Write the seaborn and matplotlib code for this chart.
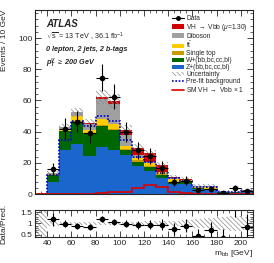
import numpy as np
import pandas as pd
import matplotlib
matplotlib.use("Agg")
import matplotlib.pyplot as plt
from matplotlib.patches import Patch
from matplotlib.lines import Line2D
from matplotlib.ticker import MultipleLocator
import seaborn as sns

# ---------------- data ----------------
edges = [30, 40, 50, 60, 70, 80, 90, 100, 110, 120, 130, 140, 150, 160, 170, 180, 190, 200, 210]
centers = [35, 45, 55, 65, 75, 85, 95, 105, 115, 125, 135, 145, 155, 165, 175, 185, 195, 205]

z_hf = [0, 7.5, 28.5, 32, 24.5, 30, 28, 25, 18, 15, 10.5, 6.2, 6.5, 3.0, 2.6, 0.9, 1.0, 2.0]
w_hf = [0, 4.8, 11.7, 14.2, 14, 13.4, 13, 3.4, 2.8, 2.5, 1.5, 1.1, 1.0, 0.8, 0.6, 0.3, 0.2, 0.3]
single_top = [0, 0.3, 0.5, 0.8, 0.8, 1.2, 1.0, 0.8, 0.8, 0.8, 0.6, 0.5, 0.4, 0.3, 0.3, 0.1, 0.1, 0.1]
ttbar = [0, 0.4, 1.0, 2.8, 1.5, 3.5, 3.0, 1.8, 1.8, 1.5, 1.3, 1.7, 1.0, 0.6, 1.3, 0.3, 0.1, 0.1]
diboson = [0, 0.6, 1.3, 2.5, 4.2, 12.9, 13, 7.0, 1.6, 0.5, 0.5, 0.5, 0.3, 0.3, 0.3, 0.2, 0.1, 0.1]
vh = [0, 0, 0.1, 0.2, 0.3, 1.0, 1.5, 3.3, 4.5, 6.0, 4.5, 1.0, 0.3, 0.2, 0.1, 0.1, 0.0, 0.0]
unc = [0.2, 1.3, 2.0, 3.0, 3.0, 4.5, 4.5, 3.0, 2.5, 2.0, 1.8, 1.5, 1.3, 1.0, 1.0, 0.5, 0.5, 0.7]

prefit = [0, 12.3, 34.8, 47, 43.4, 49.9, 47, 34.8, 24, 20.8, 13.3, 10.1, 8.5, 4.5, 4.5, 1.5, 1.2, 2.2]
sm_vh = [0, 0, 0.1, 0.2, 0.3, 0.8, 1.2, 1.3, 3.7, 5.8, 4.5, 1.5, 0.6, 0.2, 0.1, 0.1, 0.0, 0.0]

data_x = [45, 55, 65, 75, 85, 95, 105, 115, 125, 135, 145, 155, 165, 175, 185, 195, 205]
data = [16, 42, 46.5, 39, 74.5, 62.5, 40, 28, 24.5, 17, 8, 8.5, 2.5, 3.5, 0.7, 3.7, 2]
data_err = [4, 6.5, 6.8, 6.3, 8.6, 7.9, 6.3, 5.3, 5.0, 4.1, 2.8, 2.9, 1.6, 1.9, 0.8, 1.9, 1.4]

ratio = [1.18, 0.98, 0.9, 0.85, 1.2, 1.07, 0.98, 0.93, 0.94, 0.95, 0.75, 0.9, 0.45, 0.7, 0.35, 2.5, 0.85]
ratio_err = [0.3, 0.15, 0.13, 0.14, 0.14, 0.13, 0.15, 0.18, 0.2, 0.23, 0.26, 0.3, 0.3, 0.35, 0.4, 1.2, 0.55]
ratio_unc = [0.6, 0.12, 0.07, 0.07, 0.07, 0.08, 0.08, 0.08, 0.08, 0.09, 0.1, 0.12, 0.16, 0.2, 0.22, 0.3, 0.35, 0.3]

procs = ["VH", "Diboson", "ttbar", "stop", "W", "Z"]
colors = {"VH": "#d20000", "Diboson": "#a0a0a0", "ttbar": "#ffcc00",
          "stop": "#cc9900", "W": "#006600", "Z": "#1a66cc"}
labels = {"VH": r"VH $\rightarrow$ Vbb ($\mu$=1.30)", "Diboson": "Diboson",
          "ttbar": r"t$\bar{\mathregular{t}}$", "stop": "Single top",
          "W": "W+(bb,bc,cc,bl)", "Z": "Z+(bb,bc,cc,bl)"}
HATCH = "\\\\\\\\\\\\\\"
HCOL = "#8a8a8a"

# ---------------- style ----------------
sns.set_theme(style="ticks")
plt.rcParams['font.family'] = ['Liberation Sans', 'DejaVu Sans']
plt.rcParams['mathtext.fontset'] = 'custom'
plt.rcParams['mathtext.rm'] = 'Liberation Sans'
plt.rcParams['mathtext.it'] = 'Liberation Sans:italic'
plt.rcParams['mathtext.bf'] = 'Liberation Sans:bold'
plt.rcParams['hatch.linewidth'] = 0.5
plt.rcParams['axes.linewidth'] = 0.8

fig = plt.figure(figsize=(2.74, 2.63), dpi=100)
ax = fig.add_axes([0.128, 0.262, 0.795, 0.700])
rax = fig.add_axes([0.128, 0.099, 0.795, 0.103])

# ---------------- stacked histogram via seaborn ----------------
series = {"VH": vh, "Diboson": diboson, "ttbar": ttbar, "stop": single_top, "W": w_hf, "Z": z_hf}
df = pd.DataFrame({
    "mbb": np.tile(centers, len(procs)),
    "events": np.concatenate([series[p] for p in procs]),
    "process": np.repeat(procs, len(centers)),
})
sns.histplot(data=df, x="mbb", weights="events", hue="process", hue_order=procs,
             multiple="stack", bins=edges, element="step", fill=True, alpha=1,
             linewidth=0, palette=colors, legend=False, ax=ax)

total = np.sum([np.array(series[p]) for p in procs], axis=0)
unc_a = np.array(unc)
ax.bar(centers, 2 * unc_a, bottom=total - unc_a, width=10, fill=False,
       hatch=HATCH, edgecolor=HCOL, linewidth=0)
ax.stairs(prefit, edges, color="#0000cc", linestyle=(0, (1, 1)), linewidth=1.2)
ax.stairs(sm_vh, edges, color="#dd0000", linewidth=1.2)
ax.errorbar(data_x, data, yerr=data_err, xerr=5, fmt="o", color="black",
            ms=3, lw=0.8, capsize=0)

ax.set_xlim(30, 210)
ax.set_ylim(0, 118)
ax.set_xlabel("")
ax.set_ylabel("Events / 10 GeV", loc="top", fontsize=6)
ax.yaxis.set_label_coords(-0.125, 1.0)
ax.xaxis.set_major_locator(MultipleLocator(20))
ax.xaxis.set_minor_locator(MultipleLocator(5))
ax.yaxis.set_major_locator(MultipleLocator(20))
ax.yaxis.set_minor_locator(MultipleLocator(4))
ax.tick_params(axis="x", labelbottom=False)

# ---------------- ratio ----------------
ru = np.array(ratio_unc)
rax.bar(centers, 2 * ru, bottom=1 - ru, width=10, fill=False,
        hatch=HATCH, edgecolor=HCOL, linewidth=0)
rax.errorbar(data_x, ratio, yerr=ratio_err, xerr=5, fmt="o", color="black",
             ms=3, lw=0.8, capsize=0)
rax.set_xlim(30, 210)
rax.set_ylim(0.4, 1.6)
rax.set_yticks([0.5, 1, 1.5])
rax.set_yticklabels(["0.5", "1", "1.5"])
rax.yaxis.set_minor_locator(MultipleLocator(0.1))
rax.xaxis.set_major_locator(MultipleLocator(20))
rax.xaxis.set_minor_locator(MultipleLocator(5))
rax.set_ylabel("Data/Pred.", fontsize=6)
rax.yaxis.set_label_coords(-0.125, 0.5)
rax.set_xlabel(r"m$_{\mathregular{bb}}$ [GeV]", loc="right", fontsize=6, labelpad=1)

for a in (ax, rax):
    a.tick_params(which="both", direction="in", top=True, right=True, labelsize=6, pad=2)
    a.tick_params(which="major", length=4, width=0.6)
    a.tick_params(which="minor", length=2, width=0.5)
    for s in a.spines.values():
        s.set_linewidth(0.8)

# ---------------- texts ----------------
ax.text(0.05, 0.925, "ATLAS", transform=ax.transAxes, fontsize=7,
        fontweight="bold", fontstyle="italic", va="center")
ax.text(0.05, 0.855, r"$\sqrt{\mathregular{s}}$ = 13 TeV , 36.1 fb$^{\mathregular{-1}}$",
        transform=ax.transAxes, fontsize=5.2, va="center")
ax.text(0.05, 0.785, "0 lepton, 2 jets, 2 b-tags", transform=ax.transAxes,
        fontsize=5.2, fontweight="bold", fontstyle="italic", va="center")
ax.text(0.05, 0.71, r"p$_{\mathregular{T}}^{\mathregular{V}}$ $\geq$ 200 GeV", transform=ax.transAxes,
        fontsize=5.2, fontweight="bold", fontstyle="italic", va="center")

# ---------------- legend ----------------
handles = [Line2D([], [], color="black", marker="o", ms=2.5, lw=0.8)]
names = ["Data"]
for p in procs:
    handles.append(Patch(facecolor=colors[p], edgecolor="none"))
    names.append(labels[p])
handles.append(Patch(facecolor="white", edgecolor=HCOL, hatch=HATCH, linewidth=0))
names.append("Uncertainty")
handles.append(Line2D([], [], color="#0000cc", linestyle=(0, (1, 1)), lw=1.2))
names.append("Pre-fit background")
handles.append(Line2D([], [], color="#dd0000", lw=1.2))
names.append(r"SM VH $\rightarrow$ Vbb $\times$ 1")
ax.legend(handles, names, loc="upper right", bbox_to_anchor=(1.0, 1.0), frameon=False,
          fontsize=4.8, handlelength=1.8, handleheight=0.7, labelspacing=0.0,
          handletextpad=0.35, borderaxespad=0.35)

fig.savefig("out.png", dpi=100)
